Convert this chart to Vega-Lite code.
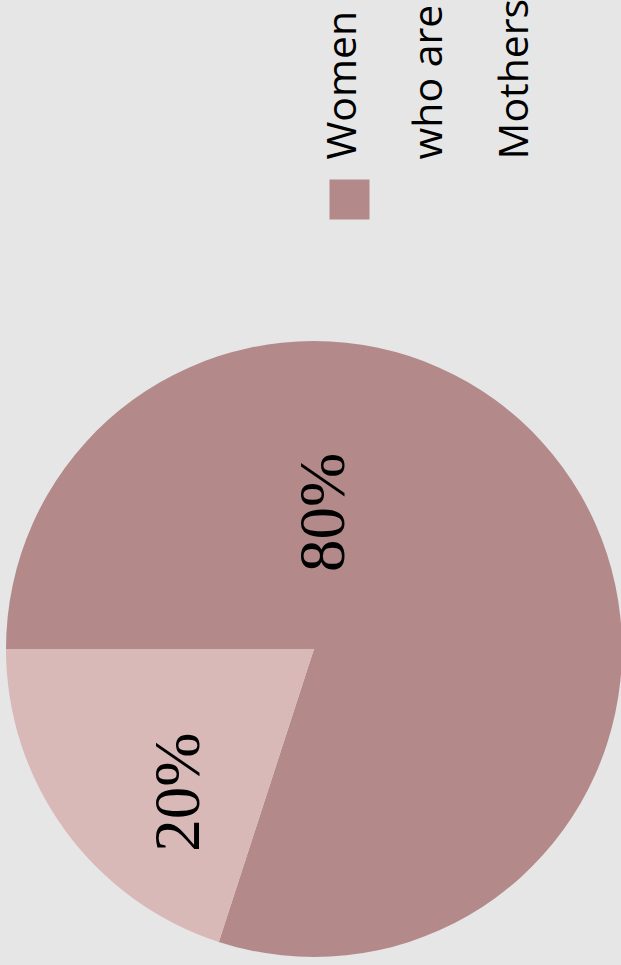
{
  "$schema": "https://vega.github.io/schema/vega-lite/v6.json",
  "width": 614,
  "height": 616,
  "autosize": {"type": "none"},
  "padding": {"left": 7, "top": 341, "right": 0, "bottom": 8},
  "background": "#e6e6e6",
  "config": {"view": {"stroke": null}},
  "data": {
    "values": [
      {"group": "Women who are Mothers", "share": 0.8},
      {"group": "Women who are not Mothers", "share": 0.2}
    ]
  },
  "encoding": {
    "theta": {"field": "share", "type": "quantitative", "stack": true, "scale": {"range": [4.712389, 10.995574]}},
    "order": {"field": "share", "type": "quantitative", "sort": "descending"}
  },
  "layer": [
    {
      "mark": {"type": "arc", "outerRadius": 308},
      "encoding": {
        "color": {
          "field": "group",
          "type": "nominal",
          "scale": {"domain": ["Women who are Mothers", "Women who are not Mothers"], "range": ["#b3898a", "#d9b8b8"]},
          "legend": {
            "title": null,
            "orient": "none",
            "legendX": 322,
            "legendY": -162,
            "padding": 0,
            "values": ["Women who are Mothers"],
            "symbolType": "square",
            "symbolSize": 1600,
            "symbolStrokeWidth": 0,
            "labelFont": "Open Sans",
            "labelFontSize": 41,
            "labelColor": "#000000",
            "labelLimit": 0,
            "labelOffset": -14,
            "labelAlign": "left",
            "labelBaseline": "alphabetic",
            "labelExpr": "['Women', 'who are', 'Mothers']",
            "encode": {
              "labels": {"update": {"angle": {"value": 270}, "dx": {"value": 40}, "lineHeight": {"value": 86}}}
            }
          }
        }
      }
    },
    {
      "mark": {"type": "text", "radius": 137, "thetaOffset": -0.866, "font": "Liberation Serif", "fontSize": 65, "angle": 270, "align": "center", "baseline": "middle", "color": "#000000"},
      "encoding": {
        "text": {"condition": {"test": "datum.share > 0.5", "field": "share", "type": "quantitative", "format": ".0%"}, "value": ""}
      }
    },
    {
      "mark": {"type": "text", "radius": 197, "thetaOffset": -0.185, "font": "Liberation Serif", "fontSize": 65, "angle": 270, "align": "center", "baseline": "middle", "color": "#000000"},
      "encoding": {
        "text": {"condition": {"test": "datum.share < 0.5", "field": "share", "type": "quantitative", "format": ".0%"}, "value": ""}
      }
    }
  ]
}
